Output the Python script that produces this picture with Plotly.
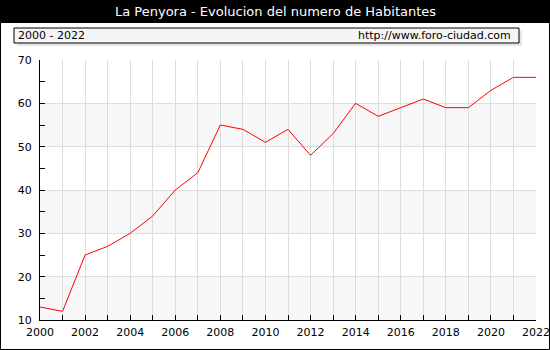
import plotly.graph_objects as go

years = list(range(2000, 2023))
habitantes = [13, 12, 25, 27, 30, 34, 40, 44, 55, 54, 51, 54, 48, 53, 60, 57, 59, 61, 59, 59, 63, 66, 66]
title_text = "La Penyora - Evolucion del numero de Habitantes"
period_text = "2000 - 2022"
source_text = "http://www.foro-ciudad.com"
band_ranges = [(10, 20), (30, 40), (50, 60)]

W, H = 550, 350
L, R, T, B = 40, 14, 60, 30
pw, ph = W - L - R, H - T - B

def px(x):
    return (x - L) / pw

def py(y):
    return (H - B - y) / ph

fig = go.Figure()
fig.add_trace(go.Scatter(x=years, y=habitantes, mode="lines",
                         line=dict(color="#ff0000", width=1), hoverinfo="x+y"))

shapes = []
for lo, hi in band_ranges:
    shapes.append(dict(type="rect", xref="paper", yref="y", x0=0, x1=1, y0=lo, y1=hi,
                       fillcolor="#f7f7f7", line=dict(width=0), layer="below"))
# title bar
shapes.append(dict(type="rect", xref="paper", yref="paper", x0=px(0), x1=px(W), y0=py(23), y1=py(0),
                   fillcolor="#000000", line=dict(width=0), layer="above"))
# subtitle box shadow
shapes.append(dict(type="rect", xref="paper", yref="paper", x0=px(17), x1=px(522), y0=py(46), y1=py(31),
                   fillcolor="#e6e6e6", line=dict(width=0), layer="above"))
# subtitle box
shapes.append(dict(type="rect", xref="paper", yref="paper", x0=px(14), x1=px(519), y0=py(43), y1=py(28),
                   fillcolor="#f5f5f5", line=dict(color="#000000", width=1), layer="above"))
# outer border
shapes.append(dict(type="rect", xref="paper", yref="paper", x0=px(0.5), x1=px(W - 0.5), y0=py(H - 0.5), y1=py(0.5),
                   fillcolor="rgba(0,0,0,0)", line=dict(color="#000000", width=1), layer="above"))

annotations = [
    dict(text=title_text, xref="paper", yref="paper", x=px(W / 2), y=py(11.5), xanchor="center", yanchor="middle",
         showarrow=False, font=dict(family="DejaVu Sans, Verdana, sans-serif", size=13, color="#ffffff")),
    dict(text=period_text, xref="paper", yref="paper", x=px(16), y=py(35.5), xanchor="left", yanchor="middle",
         showarrow=False, font=dict(family="DejaVu Sans, Verdana, sans-serif", size=11, color="#000000")),
    dict(text=source_text, xref="paper", yref="paper", x=px(513), y=py(35.5), xanchor="right", yanchor="middle",
         showarrow=False, font=dict(family="DejaVu Sans, Verdana, sans-serif", size=11, color="#000000")),
]

fig.update_layout(
    width=W, height=H, autosize=False,
    margin=dict(l=L, r=R, t=T, b=B, pad=0, autoexpand=False),
    paper_bgcolor="#ffffff", plot_bgcolor="#ffffff",
    showlegend=False,
    shapes=shapes, annotations=annotations,
    font=dict(family="DejaVu Sans, Verdana, sans-serif", size=11, color="#000000"),
    xaxis=dict(range=[2000, 2022], dtick=2, tick0=2000, showgrid=True, gridcolor="#dddddd", gridwidth=1,
               ticks="inside", ticklen=5, tickcolor="#000000", showline=True, linecolor="#000000", linewidth=1,
               zeroline=False, fixedrange=True, ticklabelstandoff=2, automargin=False,
               minor=dict(dtick=1, tick0=2000, showgrid=True, gridcolor="#dddddd", gridwidth=1,
                          ticks="inside", ticklen=5, tickcolor="#000000")),
    yaxis=dict(range=[10, 70], dtick=10, tick0=10, showgrid=True, gridcolor="#dddddd", gridwidth=1,
               ticks="inside", ticklen=5, tickcolor="#000000", showline=True, linecolor="#000000", linewidth=1,
               zeroline=False, fixedrange=True, ticklabelstandoff=5, automargin=False,
               minor=dict(dtick=5, tick0=10, showgrid=False, ticks="inside", ticklen=5, tickcolor="#000000")),
)

fig.write_html("out.html", config={"displayModeBar": False},
               post_script="document.documentElement.style.overflow='hidden';document.body.style.margin='0';document.body.style.padding='0';")
